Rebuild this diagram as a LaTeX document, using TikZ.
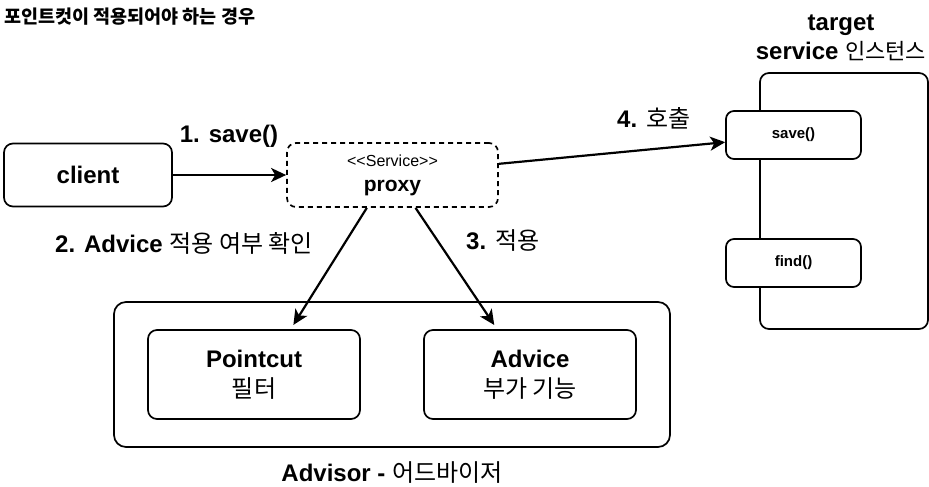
\documentclass[tikz,border=0pt]{standalone}
\usepackage{fontspec}
\setmainfont{Liberation Sans}[Ligatures=TeXOff]
\newfontfamily\kr{Noto Sans CJK KR}
\usetikzlibrary{positioning, arrows.meta}

\begin{document}
\begin{tikzpicture}[x=1pt, y=-1pt,
        box/.style={draw=black, line width=1.7pt, rounded corners=9pt, align=center, inner sep=0pt},
        call/.style={line width=2.2pt, -{Stealth[length=15pt, width=14pt, inset=4pt]}},
        lbl/.style={inner sep=0pt, font=\fontsize{24}{29}\selectfont\bfseries}]
    \useasboundingbox (0,0) rectangle (929,487);

    % title
    \node[anchor=west, inner sep=0pt, font=\kr\bfseries\fontsize{18.5}{20}\selectfont] (title) at (4,17) {포인트컷이 적용되어야 하는 경우};

    % client and proxy
    \node[box, minimum width=168pt, minimum height=63pt, font=\fontsize{24}{28}\selectfont\bfseries] (client) at (88,175) {client};
    \node[box, dashed, dash pattern=on 5pt off 4pt, minimum width=211pt, minimum height=64pt, font=\fontsize{21}{25}\selectfont] (proxy) at (392.5,175) {{\fontsize{16}{20}\selectfont {<}{<}Service{>}{>}}\\ \bfseries proxy};

    % target service instance
    \node[box, minimum width=168pt, minimum height=256pt] (target) at (844,201) {};
    \node[box, fill=white, rounded corners=8pt, minimum width=135pt, minimum height=48pt, font=\fontsize{15}{17}\selectfont\bfseries] (save) at (793.5,135) {save()};
    \node[box, fill=white, rounded corners=8pt, minimum width=135pt, minimum height=48pt, font=\fontsize{15}{17}\selectfont\bfseries] (find) at (793.5,263) {find()};
    \node[lbl, align=center] (targetlbl) at (841,38) {target\\service {\kr\mdseries\fontsize{22}{29}\selectfont 인스턴스}};

    % advisor
    \node[box, rounded corners=12pt, minimum width=556pt, minimum height=145pt] (advisor) at (392,374.5) {};
    \node[box, minimum width=212pt, minimum height=89pt, font=\fontsize{24}{30}\selectfont] (pointcut) at (254,374.5) {\bfseries Pointcut\\ {\kr 필터}};
    \node[box, minimum width=212pt, minimum height=89pt, font=\fontsize{24}{30}\selectfont] (advice) at (530,374.5) {\bfseries Advice\\ {\kr 부가 기능}};
    \node[lbl] (advisorlbl) at (392,473) {Advisor - {\kr\mdseries 어드바이저}};

    % calls
    \node[lbl] (step1) at (229,136) {1. save()};
    \node[lbl, anchor=west] (step2) at (55,243) {2. Advice {\kr\mdseries 적용 여부 확인}};
    \node[lbl, anchor=west] (step3) at (466,241) {3. {\kr\mdseries 적용}};
    \node[lbl, anchor=west] (step4) at (617,118) {4. {\kr\mdseries 호출}};

    \draw[call] (client) -- (proxy);
    \draw[call] (proxy.6.5) -- (save.186.8);
    \draw[call, shorten >=5pt] (proxy.232.6) -- (pointcut.51);
    \draw[call, shorten >=5pt] (proxy.305.1) -- (advice.126.6);
\end{tikzpicture}
\end{document}
